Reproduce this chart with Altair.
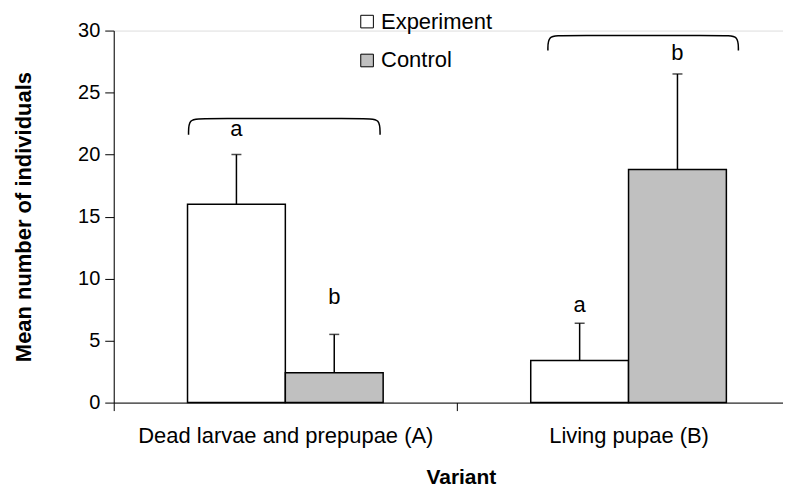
import altair as alt
import pandas as pd

# ---- data ----
variants = ["Dead larvae and prepupae (A)", "Dead larvae and prepupae (A)", "Living pupae (B)", "Living pupae (B)"]
groups = ["Experiment", "Control", "Experiment", "Control"]
group_index = [0, 0, 1, 1]
means = [16.0, 2.4, 3.4, 18.8]
err_tops = [20.0, 5.5, 6.4, 26.5]
letters = ["a", "b", "a", "b"]
letter_y = [22.1, 8.5, 7.9, 28.2]

# brackets (annotation) in data units
br_group = [0, 1]
br_left = [0.218, 1.265]
br_right = [0.776, 1.820]
br_top = [22.9, 29.6]
br_end = [21.6, 28.4]

BAR_W = 0.285
CORNER = 0.04

df = pd.DataFrame({
    "variant": variants, "group": groups, "idx": group_index,
    "mean": means, "err": err_tops, "letter": letters, "ly": letter_y,
})

rows = []
for g, l, r, t, e in zip(br_group, br_left, br_right, br_top, br_end):
    pts = [(l, e), (l, t), (l + CORNER, t), (r - CORNER, t), (r, t), (r, e)]
    for k, (px, py) in enumerate(pts):
        rows.append({"g": g, "order": k, "bx": px, "by": py})
br_df = pd.DataFrame(rows)

W = 671
H = 373
FONT = "Liberation Sans"

xscale = alt.Scale(domain=[0, 1.95], nice=False, zero=False)
yscale = alt.Scale(domain=[0, 30], nice=False)

xaxis = alt.Axis(
    values=[0, 0.5, 1, 1.5, 2],
    labelExpr="datum.value == 0.5 ? 'Dead larvae and prepupae (A)' : (datum.value == 1.5 ? 'Living pupae (B)' : '')",
    tickOpacity={"condition": {"test": "datum.value % 1 != 0", "value": 0}, "value": 1},
    title="Variant", titleFontSize=21, titleFontWeight="bold", titlePadding=20, titleX=348,
    labelFontSize=22, labelPadding=15, labelLimit=500, tickSize=8, grid=False,
    domainColor="black", tickColor="black", labelColor="black", titleColor="black",
    labelFont=FONT, titleFont=FONT,
)
yaxis = alt.Axis(
    values=[0, 5, 10, 15, 20, 25, 30],
    title="Mean number of individuals", titleFontSize=22, titleFontWeight="bold",
    titlePadding=42, labelFontSize=20, labelPadding=5, tickSize=9, grid=False,
    domainColor="black", tickColor="black", labelColor="black", titleColor="black",
    labelFont=FONT, titleFont=FONT,
)

base = alt.Chart(df).transform_calculate(
    x0=f"datum.idx + 0.5 - (datum.group == 'Experiment' ? {BAR_W} : 0)",
).transform_calculate(
    x1=f"datum.x0 + {BAR_W}",
    xc=f"datum.x0 + {BAR_W / 2}",
)

bars = base.mark_bar(stroke="black", strokeWidth=1.5).encode(
    x=alt.X("x0:Q", scale=xscale, axis=xaxis),
    x2="x1:Q",
    y=alt.Y("mean:Q", scale=yscale, axis=yaxis),
    y2=alt.datum(0),
    fill=alt.Fill("group:N", scale=alt.Scale(domain=["Experiment", "Control"], range=["white", "#c0c0c0"]),
                  legend=alt.Legend(title=None, orient="none", legendX=243, legendY=-20,
                                    symbolType="square", symbolSize=160, symbolStrokeColor="black",
                                    symbolStrokeWidth=1, labelFontSize=22, labelFont=FONT,
                                    labelColor="black", rowPadding=17, labelOffset=3)),
)

err_rule = base.mark_rule(color="black", strokeWidth=1.5).encode(
    x="xc:Q", y="mean:Q", y2="err:Q",
)
err_cap = base.mark_tick(color="black", thickness=1.5, size=10, orient="horizontal").encode(
    x="xc:Q", y="err:Q",
)
text = base.mark_text(fontSize=22, font=FONT, color="black", baseline="middle").encode(
    x="xc:Q", y="ly:Q", text="letter:N",
)

brackets = alt.Chart(br_df).mark_line(color="black", strokeWidth=1.5, interpolate="basis", clip=False).encode(
    x="bx:Q", y="by:Q", detail="g:N", order="order:Q",
)

chart = alt.layer(bars, err_rule, err_cap, text, brackets).properties(
    width=W, height=H, padding={"left": 4, "top": 2, "right": 0, "bottom": 5},
).configure_view(stroke=None).configure(background="white")

chart.save("out.html", embed_options={"renderer": "svg", "actions": False})
